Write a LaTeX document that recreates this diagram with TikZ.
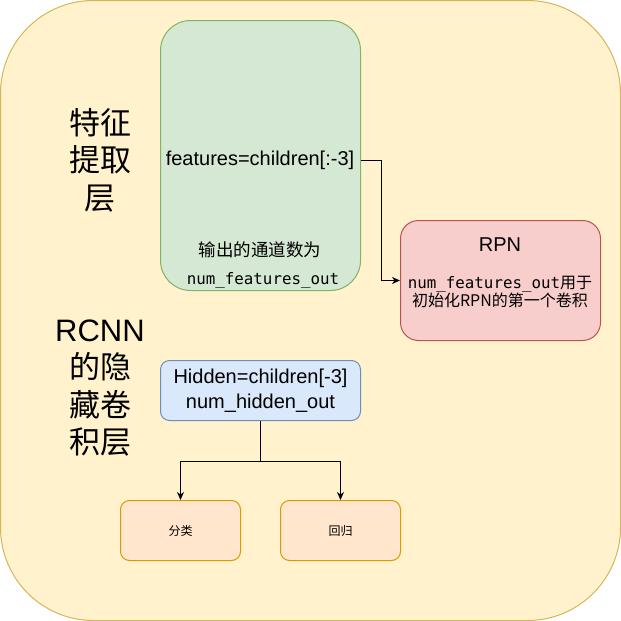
\documentclass[tikz,border=0pt]{standalone}
\usepackage{fontspec}
\setmainfont{Liberation Sans}
\setmonofont{DejaVu Sans Mono}
\newfontfamily\cjk{Noto Sans CJK SC}
\usetikzlibrary{arrows.meta}
\definecolor{yfill}{HTML}{FFF2CC}\definecolor{ydraw}{HTML}{D6B656}
\definecolor{gfill}{HTML}{D5E8D4}\definecolor{gdraw}{HTML}{82B366}
\definecolor{rfill}{HTML}{F8CECC}\definecolor{rdraw}{HTML}{B85450}
\definecolor{bfill}{HTML}{DAE8FC}\definecolor{bdraw}{HTML}{6C8EBF}
\definecolor{ofill}{HTML}{FFE6CC}\definecolor{odraw}{HTML}{D79B00}
\tikzset{
  box/.style={draw, line width=1pt, inner sep=0pt, align=center},
  outerbox/.style={box, fill=yfill, draw=ydraw, rounded corners=93pt, minimum width=620pt, minimum height=620pt},
  greenbox/.style={box, fill=gfill, draw=gdraw, rounded corners=30pt, minimum width=200pt, minimum height=270pt},
  redbox/.style={box, fill=rfill, draw=rdraw, rounded corners=18pt, minimum width=200pt, minimum height=120pt},
  bluebox/.style={box, fill=bfill, draw=bdraw, rounded corners=9pt, minimum width=200pt, minimum height=60pt, font=\fontsize{20}{25}\selectfont},
  orangebox/.style={box, fill=ofill, draw=odraw, rounded corners=9pt, minimum width=120pt, minimum height=60pt, font=\fontsize{12}{14}\selectfont\cjk},
  txt/.style={inner sep=0pt, align=center},
  biglabel/.style={txt, font=\fontsize{31}{37.5}\selectfont},
  conn/.style={line width=1pt, draw=black},
  arr/.style={conn, -{Stealth[length=8pt,width=7pt,inset=2.5pt]}},
}
\begin{document}
\begin{tikzpicture}[x=1pt,y=-1pt]
\useasboundingbox (0,0) rectangle (621,621);
\node[outerbox] (bg) at (310.5,310.5) {};
% feature extraction
\node[greenbox] (feat) at (260.5,155.5) {};
\node[txt, font=\fontsize{20}{24}\selectfont] (ftext) at (260,160) {features=children[:-3]};
\node[txt, font=\fontsize{17.5}{20}\selectfont\cjk] (fout1) at (260,250) {输出的通道数为};
\node[txt, font=\fontsize{15.8}{18}\selectfont\ttfamily] (fout2) at (263,280) {num\_features\_out};
% RPN
\node[redbox] (rpn) at (500.5,280.5) {};
\node[txt, font=\fontsize{20}{24}\selectfont] (rpntitle) at (500,245) {RPN};
\node[txt, font=\fontsize{16}{17}\selectfont] (rpntext) at (500,292) {{\ttfamily\fontsize{15.8}{17}\selectfont num\_features\_out}{\cjk 用于}\\{\cjk 初始化RPN的第一个卷积}};
\draw[arr] (feat.east |- ftext) -- ++(20,0) |- (rpn.west);
% left labels
\node[biglabel] (lab1) at (100,160) {{\cjk 特征}\\{\cjk 提取}\\{\cjk 层}};
\node[biglabel] (lab2) at (100,388) {RCNN\\{\cjk 的隐}\\{\cjk 藏卷}\\{\cjk 积层}};
% hidden
\node[bluebox] (hid) at (260.5,390.5) {Hidden=children[-3]\\num\_hidden\_out};
\node[orangebox] (cls) at (180.5,530.5) {分类};
\node[orangebox] (reg) at (340.5,530.5) {回归};
\draw[conn] (hid.south) -- ++(0,40) coordinate (split);
\draw[arr] (split) -| (cls.north);
\draw[arr] (split) -| (reg.north);
\end{tikzpicture}
\end{document}
